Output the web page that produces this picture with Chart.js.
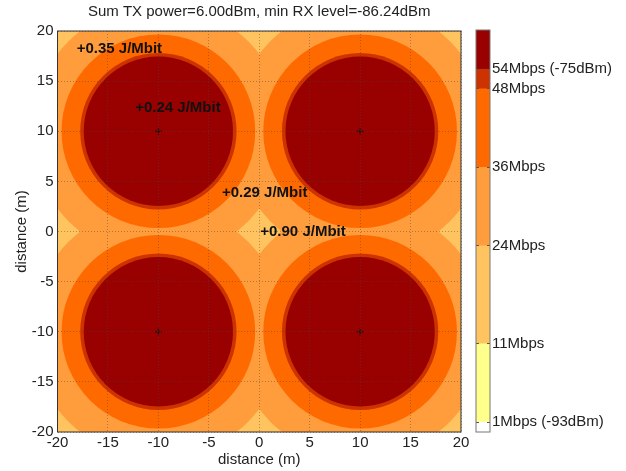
<!DOCTYPE html>
<html>
<head>
<meta charset="utf-8">
<script src="https://cdn.jsdelivr.net/npm/chart.js@4.4.1/dist/chart.umd.min.js"></script>
<style>
  body { margin: 0; background: #fff; }
  #wrap { position: relative; width: 626px; height: 471px; }
  #wrap canvas { position: absolute; left: 0; top: 0; }
</style>
</head>
<body>
<div id="wrap">
  <canvas id="map" width="626" height="471"></canvas>
  <canvas id="bar" width="626" height="471"></canvas>
</div>
<script>
// ── DATA ──
const apX = [-10, 10, -10, 10];
const apY = [10, 10, -10, -10];

// coverage radius (m) of each rate around one AP, outermost first
const rateNames  = ['24Mbps', '36Mbps', '48Mbps', '54Mbps'];
const rateRadius = [12.6, 9.6, 7.75, 7.4];
const rateColors = ['#ff9d3d', '#ff6a00', '#cc3300', '#990000'];
const floorColor = '#ffc460';   // 11Mbps band, what is left

const noteX    = [-18.1, -12.3, -3.7, 0.1];
const noteY    = [18.2, 12.3, 3.9, 0.0];
const noteText = ['+0.35 J/Mbit', '+0.24 J/Mbit', '+0.29 J/Mbit', '+0.90 J/Mbit'];

const axisTicks = [-20, -15, -10, -5, 0, 5, 10, 15, 20];

// colorbar bands (dBm)
const barLo     = [-93.5, -93, -89, -84, -80, -76, -75];
const barHi     = [-93, -89, -84, -80, -76, -75, -73];
const barColors = ['#ffffff', '#ffff8c', '#ffc460', '#ff9d3d', '#ff6a00', '#cc3300', '#990000'];
const barTickVals   = [-93, -89, -84, -80, -76, -75];
const barTickLabels = ['1Mbps (-93dBm)', '11Mbps', '24Mbps', '36Mbps', '48Mbps', '54Mbps (-75dBm)'];

const FONT = "'Liberation Sans', Arial, sans-serif";
const TXT = '#222';

// ── MAP ──
const apPoints = () => apX.map((x, i) => ({ x, y: apY[i] }));

// point radius in pixels for a distance in metres, through the x scale
function pxRadius(metres) {
  return ctx => {
    const s = ctx.chart.scales.x;
    return Math.abs(s.getPixelForValue(metres) - s.getPixelForValue(0));
  };
}

// outer rings get a higher order so they are drawn underneath
const ringSets = rateNames.map((name, i) => ({
  label: name,
  data: apPoints(),
  order: 10 - i,
  pointRadius: pxRadius(rateRadius[i]),
  pointHoverRadius: pxRadius(rateRadius[i]),
  pointBackgroundColor: rateColors[i],
  pointBorderWidth: 0,
  clip: 0
}));

const apSet = {
  label: 'AP',
  data: apPoints(),
  order: 0,
  pointStyle: 'cross',
  pointRadius: 3.5,
  pointBorderColor: '#111',
  pointBorderWidth: 1,
  clip: 0
};

const mapPlugin = {
  id: 'mapExtras',
  beforeDatasetsDraw(chart) {
    const { ctx, chartArea: a } = chart;
    ctx.save();
    ctx.fillStyle = floorColor;
    ctx.fillRect(a.left, a.top, a.right - a.left, a.bottom - a.top);
    ctx.restore();
  },
  afterDraw(chart) {
    const { ctx, chartArea: a, scales } = chart;
    ctx.save();
    // notes
    ctx.fillStyle = '#111';
    ctx.font = `bold 15px ${FONT}`;
    ctx.textAlign = 'left';
    ctx.textBaseline = 'middle';
    noteText.forEach((t, i) => {
      ctx.fillText(t, scales.x.getPixelForValue(noteX[i]), scales.y.getPixelForValue(noteY[i]));
    });
    // box
    ctx.strokeStyle = '#333';
    ctx.lineWidth = 1;
    ctx.strokeRect(a.left, a.top, a.right - a.left, a.bottom - a.top);
    // title
    ctx.fillStyle = TXT;
    ctx.font = `15px ${FONT}`;
    ctx.textAlign = 'center';
    ctx.fillText('Sum TX power=6.00dBm, min RX level=-86.24dBm', (a.left + a.right) / 2, 12);
    ctx.restore();
  }
};

function axis(pos, fit) {
  return {
    type: 'linear',
    position: pos,
    min: -20, max: 20,
    afterBuildTicks: s => { s.ticks = axisTicks.map(v => ({ value: v })); },
    afterFit: fit,
    grid: { color: 'rgba(70,70,70,0.45)', lineWidth: 1, drawTicks: false, z: 1 },
    border: { display: false, dash: [1, 2] },
    ticks: { color: TXT, font: { family: FONT, size: 15 }, padding: pos === 'bottom' ? 2 : 4, autoSkip: false },
    title: {
      display: true,
      text: 'distance (m)',
      color: TXT,
      font: { family: FONT, size: 15 },
      padding: pos === 'bottom' ? { top: 0, bottom: 2 } : { top: 13, bottom: 0 }
    }
  };
}

new Chart(document.getElementById('map'), {
  type: 'scatter',
  data: { datasets: [apSet, ...ringSets] },
  options: {
    responsive: false,
    animation: false,
    events: [],
    layout: { padding: { top: 31, right: 165, left: 0, bottom: 0 } },
    plugins: { legend: { display: false }, tooltip: { enabled: false }, title: { display: false } },
    scales: {
      x: axis('bottom', s => { s.height = 39; }),
      y: axis('left', s => { s.width = 57.5; })
    }
  },
  plugins: [mapPlugin]
});

// ── COLORBAR ──
const barPlugin = {
  id: 'barBox',
  afterDraw(chart) {
    const { ctx, chartArea: a } = chart;
    ctx.save();
    ctx.strokeStyle = '#777';
    ctx.lineWidth = 1;
    ctx.strokeRect(a.left, a.top, a.right - a.left, a.bottom - a.top);
    ctx.restore();
  }
};

new Chart(document.getElementById('bar'), {
  type: 'bar',
  data: {
    labels: ['rx'],
    datasets: barLo.map((lo, i) => ({
      label: 'band' + i,
      data: [[lo, barHi[i]]],
      backgroundColor: barColors[i],
      borderWidth: 0,
      grouped: false,
      barPercentage: 1,
      categoryPercentage: 1
    }))
  },
  options: {
    responsive: false,
    animation: false,
    events: [],
    layout: { padding: { top: 30, right: 0, left: 476, bottom: 39 } },
    plugins: { legend: { display: false }, tooltip: { enabled: false } },
    scales: {
      x: { display: false },
      y: {
        position: 'right',
        min: -93.5, max: -73,
        afterBuildTicks: s => { s.ticks = barTickVals.map(v => ({ value: v })); },
        afterFit: s => { s.width = 136; },
        grid: { color: '#555', drawTicks: false, z: 1 },
        border: { display: false, dash: [3, 8] },
        ticks: {
          color: TXT,
          font: { family: FONT, size: 15 },
          padding: 2,
          autoSkip: false,
          callback: v => barTickLabels[barTickVals.indexOf(v)]
        }
      }
    }
  },
  plugins: [barPlugin]
});
</script>
</body>
</html>
